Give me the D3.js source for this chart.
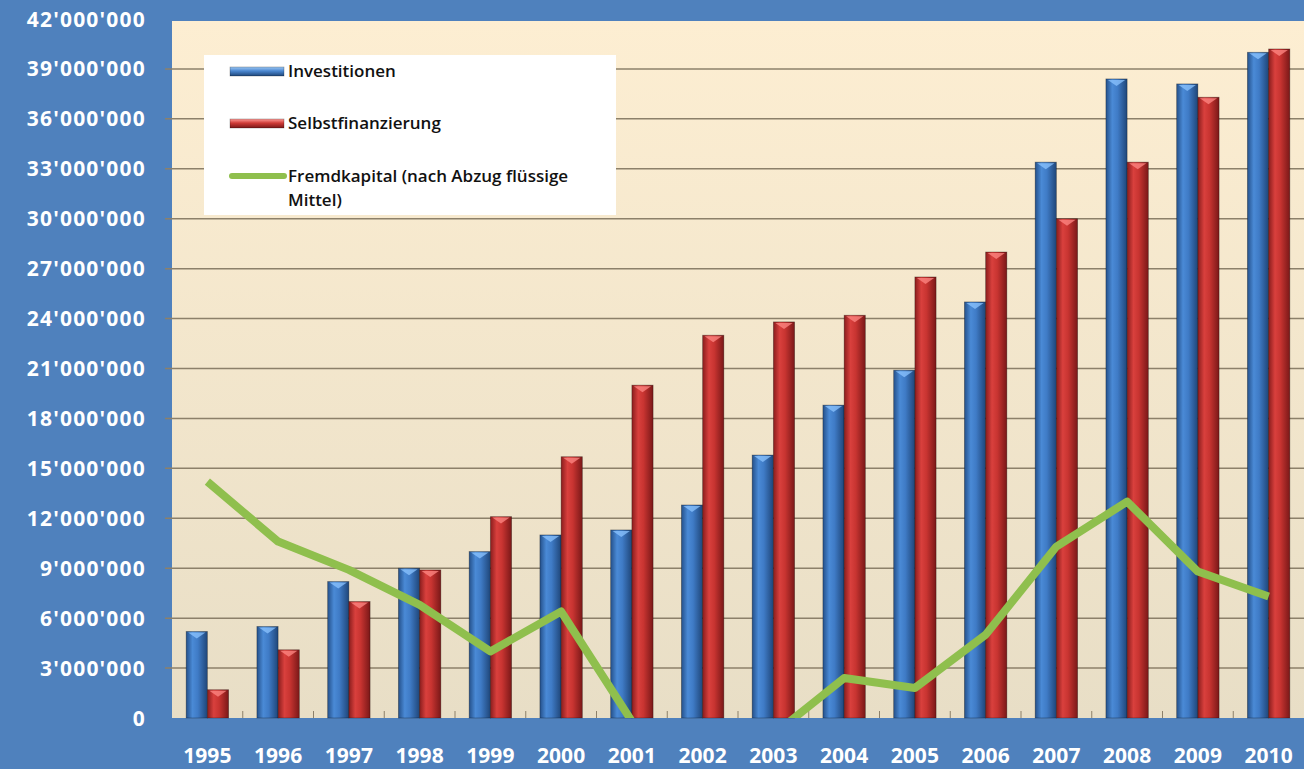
<!DOCTYPE html>
<html>
<head>
<meta charset="utf-8">
<script src="https://cdn.jsdelivr.net/npm/d3@7"></script>
<style>
    body { margin: 0; background: #4f81bd; }
    .ylab text, .xlab text { fill: #fff; font-family: "Open Sans", sans-serif; font-weight: 700; }
    .legend text { fill: #111; font-family: "Open Sans", sans-serif; font-weight: 600; font-size: 17px; }
</style>
</head>
<body>
<svg id="chart"></svg>
<script>

const years = ["1995", "1996", "1997", "1998", "1999", "2000", "2001", "2002",
               "2003", "2004", "2005", "2006", "2007", "2008", "2009", "2010"];

const investitionen = [5.2, 5.5, 8.2, 9.0, 10.0, 11.0, 11.3, 12.8,
                       15.8, 18.8, 20.9, 25.0, 33.4, 38.4, 38.1, 40.0];

const selbstfinanzierung = [1.7, 4.1, 7.0, 8.9, 12.1, 15.7, 20.0, 23.0,
                            23.8, 24.2, 26.5, 28.0, 30.0, 33.4, 37.3, 40.2];

// Fremdkapital falls below zero 2001-2003, clipped like in the original
const fremdkapital = [14.2, 10.6, 8.9, 6.8, 4.0, 6.4, -0.2, -3.5,
                      -1.0, 2.4, 1.8, 5.0, 10.3, 13.0, 8.8, 7.3];

const yTicks = d3.range(0, 43, 3);

const seriesNames = ["Investitionen", "Selbstfinanzierung"];

drawChart();

function drawChart() {

    const width = 1304, height = 769;
    const plot = { left: 172, right: 1304, top: 21, bottom: 718 };

    const svg = d3.select("#chart")
        .attr("width", width)
        .attr("height", height);

    const defs = svg.append("defs");

    addGradient(defs, "bg", [["0%", "#fdeed2"], ["100%", "#e8dec6"]], true);
    addGradient(defs, "blue", [["0%", "#24508a"], ["30%", "#4a8ad6"], ["55%", "#3f7bc6"], ["100%", "#1f4679"]]);
    addGradient(defs, "red", [["0%", "#8a1d1d"], ["30%", "#d9403d"], ["55%", "#c83431"], ["100%", "#7a1818"]]);
    addGradient(defs, "bluev", [["0%", "#9cc8f5"], ["45%", "#4a86cf"], ["100%", "#1f4679"]], true);
    addGradient(defs, "redv", [["0%", "#ff9c98"], ["45%", "#cf3a36"], ["100%", "#7a1818"]], true);

    defs.append("clipPath")
        .attr("id", "plotclip")
        .append("rect")
        .attr("x", plot.left).attr("y", plot.top)
        .attr("width", plot.right - plot.left).attr("height", plot.bottom - plot.top);

    // Scales

    const x = d3.scaleBand()
        .domain(years)
        .range([plot.left, plot.right])
        .paddingInner(0.4)
        .paddingOuter(0.2);

    const x1 = d3.scaleBand()
        .domain(seriesNames)
        .range([0, x.bandwidth()]);

    const y = d3.scaleLinear()
        .domain([0, 42])
        .range([plot.bottom, 19]);

    const fmt = d3.formatLocale({ decimal: ".", thousands: "'", grouping: [3], currency: ["", ""] }).format(",d");

    // Plot area

    svg.append("rect")
        .attr("x", plot.left).attr("y", plot.top)
        .attr("width", plot.right - plot.left).attr("height", plot.bottom - plot.top)
        .attr("fill", "url(#bg)");

    // Grid lines

    svg.append("g")
        .attr("class", "grid")
        .selectAll("line")
        .data(yTicks.filter(d => d > 0 && d < 42))
        .join("line")
        .attr("x1", 165).attr("x2", plot.right)
        .attr("y1", d => y(d)).attr("y2", d => y(d))
        .attr("stroke", "#8c806a")
        .attr("stroke-width", 1.5);

    // Category ticks

    svg.append("g")
        .selectAll("line")
        .data(years.slice(1))
        .join("line")
        .attr("x1", d => x(d) - x.step() * 0.2)
        .attr("x2", d => x(d) - x.step() * 0.2)
        .attr("y1", plot.bottom)
        .attr("y2", plot.bottom - 7)
        .attr("stroke", "#8c806a")
        .attr("stroke-width", 1);

    // Bars

    const barData = years.flatMap((yr, i) => [
        { year: yr, key: "Investitionen", value: investitionen[i], fill: "blue", cap: "#8cc4ff" },
        { year: yr, key: "Selbstfinanzierung", value: selbstfinanzierung[i], fill: "red", cap: "#ff8a86" }
    ]);

    const bars = svg.append("g").attr("class", "bars");

    bars.selectAll("rect")
        .data(barData)
        .join("rect")
        .attr("x", d => x(d.year) + x1(d.key))
        .attr("y", d => y(d.value))
        .attr("width", x1.bandwidth())
        .attr("height", d => y(0) - y(d.value))
        .attr("fill", d => `url(#${ d.fill })`)
        .attr("stroke", "rgba(0,0,0,0.35)")
        .attr("stroke-width", 0.8);

    bars.selectAll("path")
        .data(barData)
        .join("path")
        .attr("d", d => {
            const bx = x(d.year) + x1(d.key), by = y(d.value), w = x1.bandwidth();
            return `M ${ bx + 2 } ${ by + 1 } L ${ bx + w - 2 } ${ by + 1 } L ${ bx + w / 2 } ${ by + 7 } Z`;
        })
        .attr("fill", d => d.cap)
        .attr("opacity", 0.75);

    // Fremdkapital line

    const line = d3.line()
        .x((d, i) => x(years[i]) + x.bandwidth() / 2)
        .y(d => y(d));

    svg.append("path")
        .datum(fremdkapital)
        .attr("clip-path", "url(#plotclip)")
        .attr("d", line)
        .attr("fill", "none")
        .attr("stroke", "#8fbf4d")
        .attr("stroke-width", 8)
        .attr("stroke-linejoin", "round");

    // Axis labels

    svg.append("g")
        .attr("class", "ylab")
        .selectAll("text")
        .data(yTicks)
        .join("text")
        .attr("x", 146)
        .attr("y", d => y(d))
        .attr("dy", "0.36em")
        .attr("text-anchor", "end")
        .attr("font-size", 21)
        .attr("letter-spacing", 1.2)
        .text(d => fmt(d * 1e6));

    svg.append("g")
        .attr("class", "xlab")
        .selectAll("text")
        .data(years)
        .join("text")
        .attr("x", d => x(d) + x.bandwidth() / 2)
        .attr("y", 763)
        .attr("text-anchor", "middle")
        .attr("font-size", 21)
        .text(d => d);

    // Legend

    const legend = svg.append("g").attr("class", "legend");

    legend.append("rect")
        .attr("x", 204).attr("y", 55)
        .attr("width", 412).attr("height", 160)
        .attr("fill", "#fff");

    const swatches = [
        { fill: "bluev", cy: 71, label: "Investitionen" },
        { fill: "redv", cy: 123, label: "Selbstfinanzierung" }
    ];

    swatches.forEach(s => {
        legend.append("rect")
            .attr("x", 230).attr("y", s.cy - 4)
            .attr("width", 54).attr("height", 9)
            .attr("fill", `url(#${ s.fill })`)
            .attr("stroke", "rgba(0,0,0,0.4)")
            .attr("stroke-width", 0.6);
        legend.append("text")
            .attr("x", 288).attr("y", s.cy)
            .attr("dy", "0.36em")
            .text(s.label);
    });

    legend.append("line")
        .attr("x1", 232).attr("x2", 284)
        .attr("y1", 176).attr("y2", 176)
        .attr("stroke", "#8fbf4d")
        .attr("stroke-width", 6)
        .attr("stroke-linecap", "round");

    legend.append("text")
        .attr("x", 288).attr("y", 176)
        .attr("dy", "0.36em")
        .text("Fremdkapital (nach Abzug flüssige");

    legend.append("text")
        .attr("x", 288).attr("y", 200)
        .attr("dy", "0.36em")
        .text("Mittel)");
}

function addGradient(defs, id, stops, vertical) {

    const g = defs.append("linearGradient")
        .attr("id", id)
        .attr("x1", 0).attr("y1", 0)
        .attr("x2", vertical ? 0 : 1)
        .attr("y2", vertical ? 1 : 0);

    g.selectAll("stop")
        .data(stops)
        .join("stop")
        .attr("offset", d => d[0])
        .attr("stop-color", d => d[1]);
}

</script>
</body>
</html>
